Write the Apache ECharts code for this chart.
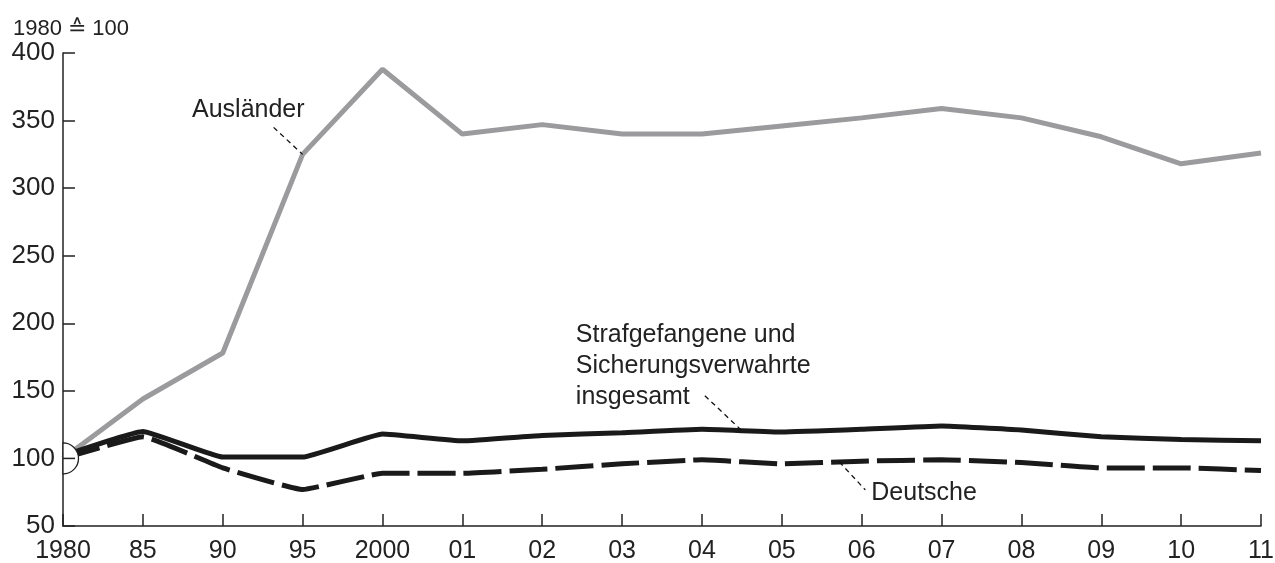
<!DOCTYPE html>
<html>
<head>
<meta charset="utf-8">
<script src="https://cdn.jsdelivr.net/npm/echarts@6/dist/echarts.min.js"></script>
<style>
html,body{margin:0;padding:0;background:#fff;}
#chart{width:1275px;height:563px;}
</style>
</head>
<body>
<div id="chart"></div>
<script>
const categories = ['1980','85','90','95','2000','01','02','03','04','05','06','07','08','09','10','11'];
const auslaender = [100,144,178,325,388,340,347,340,340,346,352,359,352,338,318,326];
const insgesamt  = [102,120,101,101,118,113,117,119,121.5,119.5,121.5,124,121,116,114,113];
const deutsche   = [100,116,93,77,89,89,92,96,99,96,98,99,97,93,93,91];
const yTicks = {min:50, max:400, interval:50};
const unitLabel = '1980 \u2259 100';

const FONT = '"Liberation Sans", Arial, sans-serif';
const chart = echarts.init(document.getElementById('chart'));
const option = {
  animation:false,
  backgroundColor:'#fff',
  title:{text:unitLabel,left:8,top:13,textStyle:{fontFamily:FONT,fontSize:22,fontWeight:'normal',color:'#222'}},
  grid:{left:63,right:14,top:53,bottom:37,outerBoundsMode:'none',containLabel:false},
  xAxis:{
    type:'category',data:categories,boundaryGap:false,
    axisLine:{lineStyle:{color:'#222',width:1.5}},
    axisTick:{inside:true,length:12,lineStyle:{color:'#222',width:1.5},alignWithLabel:true},
    axisLabel:{fontFamily:FONT,fontSize:25,color:'#222',margin:13,interval:0},
    splitLine:{show:false}
  },
  yAxis:{
    type:'value',min:yTicks.min,max:yTicks.max,interval:yTicks.interval,
    axisLine:{show:true,lineStyle:{color:'#222',width:1.5}},
    axisTick:{show:true,inside:true,length:12,lineStyle:{color:'#222',width:1.5}},
    axisLabel:{fontFamily:FONT,fontSize:26,color:'#222',margin:8},
    splitLine:{show:false}
  },
  series:[
    {name:'Ausländer',type:'line',data:auslaender,symbol:'none',lineStyle:{color:'#9b9b9d',width:5},z:2},
    {name:'Deutsche',type:'line',data:deutsche,symbol:'none',smooth:0.1,lineStyle:{color:'#1a1a1a',width:5,type:[38,8]},z:3},
    {name:'Strafgefangene und Sicherungsverwahrte insgesamt',type:'line',data:insgesamt,symbol:'none',smooth:0.1,lineStyle:{color:'#1a1a1a',width:5},z:4}
  ]
};
chart.setOption(option);

function px(i,v){return chart.convertToPixel({gridIndex:0},[i,v]);}
// interpolate along a series between two categories
function along(arr,t){
  const i=Math.floor(t), f=t-i;
  const p0=px(i,arr[i]), p1=px(i+1,arr[i+1]);
  return [p0[0]+(p1[0]-p0[0])*f, p0[1]+(p1[1]-p0[1])*f];
}
const leaderStyle={stroke:'#111',lineWidth:1.3,lineDash:[5,4]};
const txtStyle={fontFamily:FONT,fontSize:25,fill:'#222'};

const a = px(3,auslaender[3]);
const s = along(insgesamt,8.5);
const d = along(deutsche,9.72);
const o = px(0,100);

chart.setOption({graphic:[
  {type:'line',shape:{x1:a[0]-29,y1:a[1]-27,x2:a[0],y2:a[1]},style:leaderStyle,z:10},
  {type:'text',x:a[0]+2,y:a[1]-44,style:Object.assign({text:'Ausländer',textAlign:'right',textVerticalAlign:'middle'},txtStyle),z:10},
  {type:'line',shape:{x1:s[0]-37,y1:s[1]-35,x2:s[0],y2:s[1]},style:leaderStyle,z:10},
  {type:'text',x:s[0]-166,y:s[1]-111,style:Object.assign({text:'Strafgefangene und\nSicherungsverwahrte\ninsgesamt',textAlign:'left',textVerticalAlign:'top',lineHeight:31},txtStyle),z:10},
  {type:'line',shape:{x1:d[0],y1:d[1],x2:d[0]+26,y2:d[1]+28},style:leaderStyle,z:10},
  {type:'text',x:d[0]+32,y:d[1]+31,style:Object.assign({text:'Deutsche',textAlign:'left',textVerticalAlign:'middle'},txtStyle),z:10},
  {type:'sector',shape:{cx:o[0],cy:o[1],r:15.5,r0:0,startAngle:-Math.PI/2,endAngle:Math.PI/2,clockwise:true},style:{fill:'#fff',stroke:'#222',lineWidth:1.3},z:20},
  {type:'line',shape:{x1:o[0],y1:o[1],x2:o[0]+12,y2:o[1]},style:{stroke:'#222',lineWidth:1.5},z:21}
]});
</script>
</body>
</html>
